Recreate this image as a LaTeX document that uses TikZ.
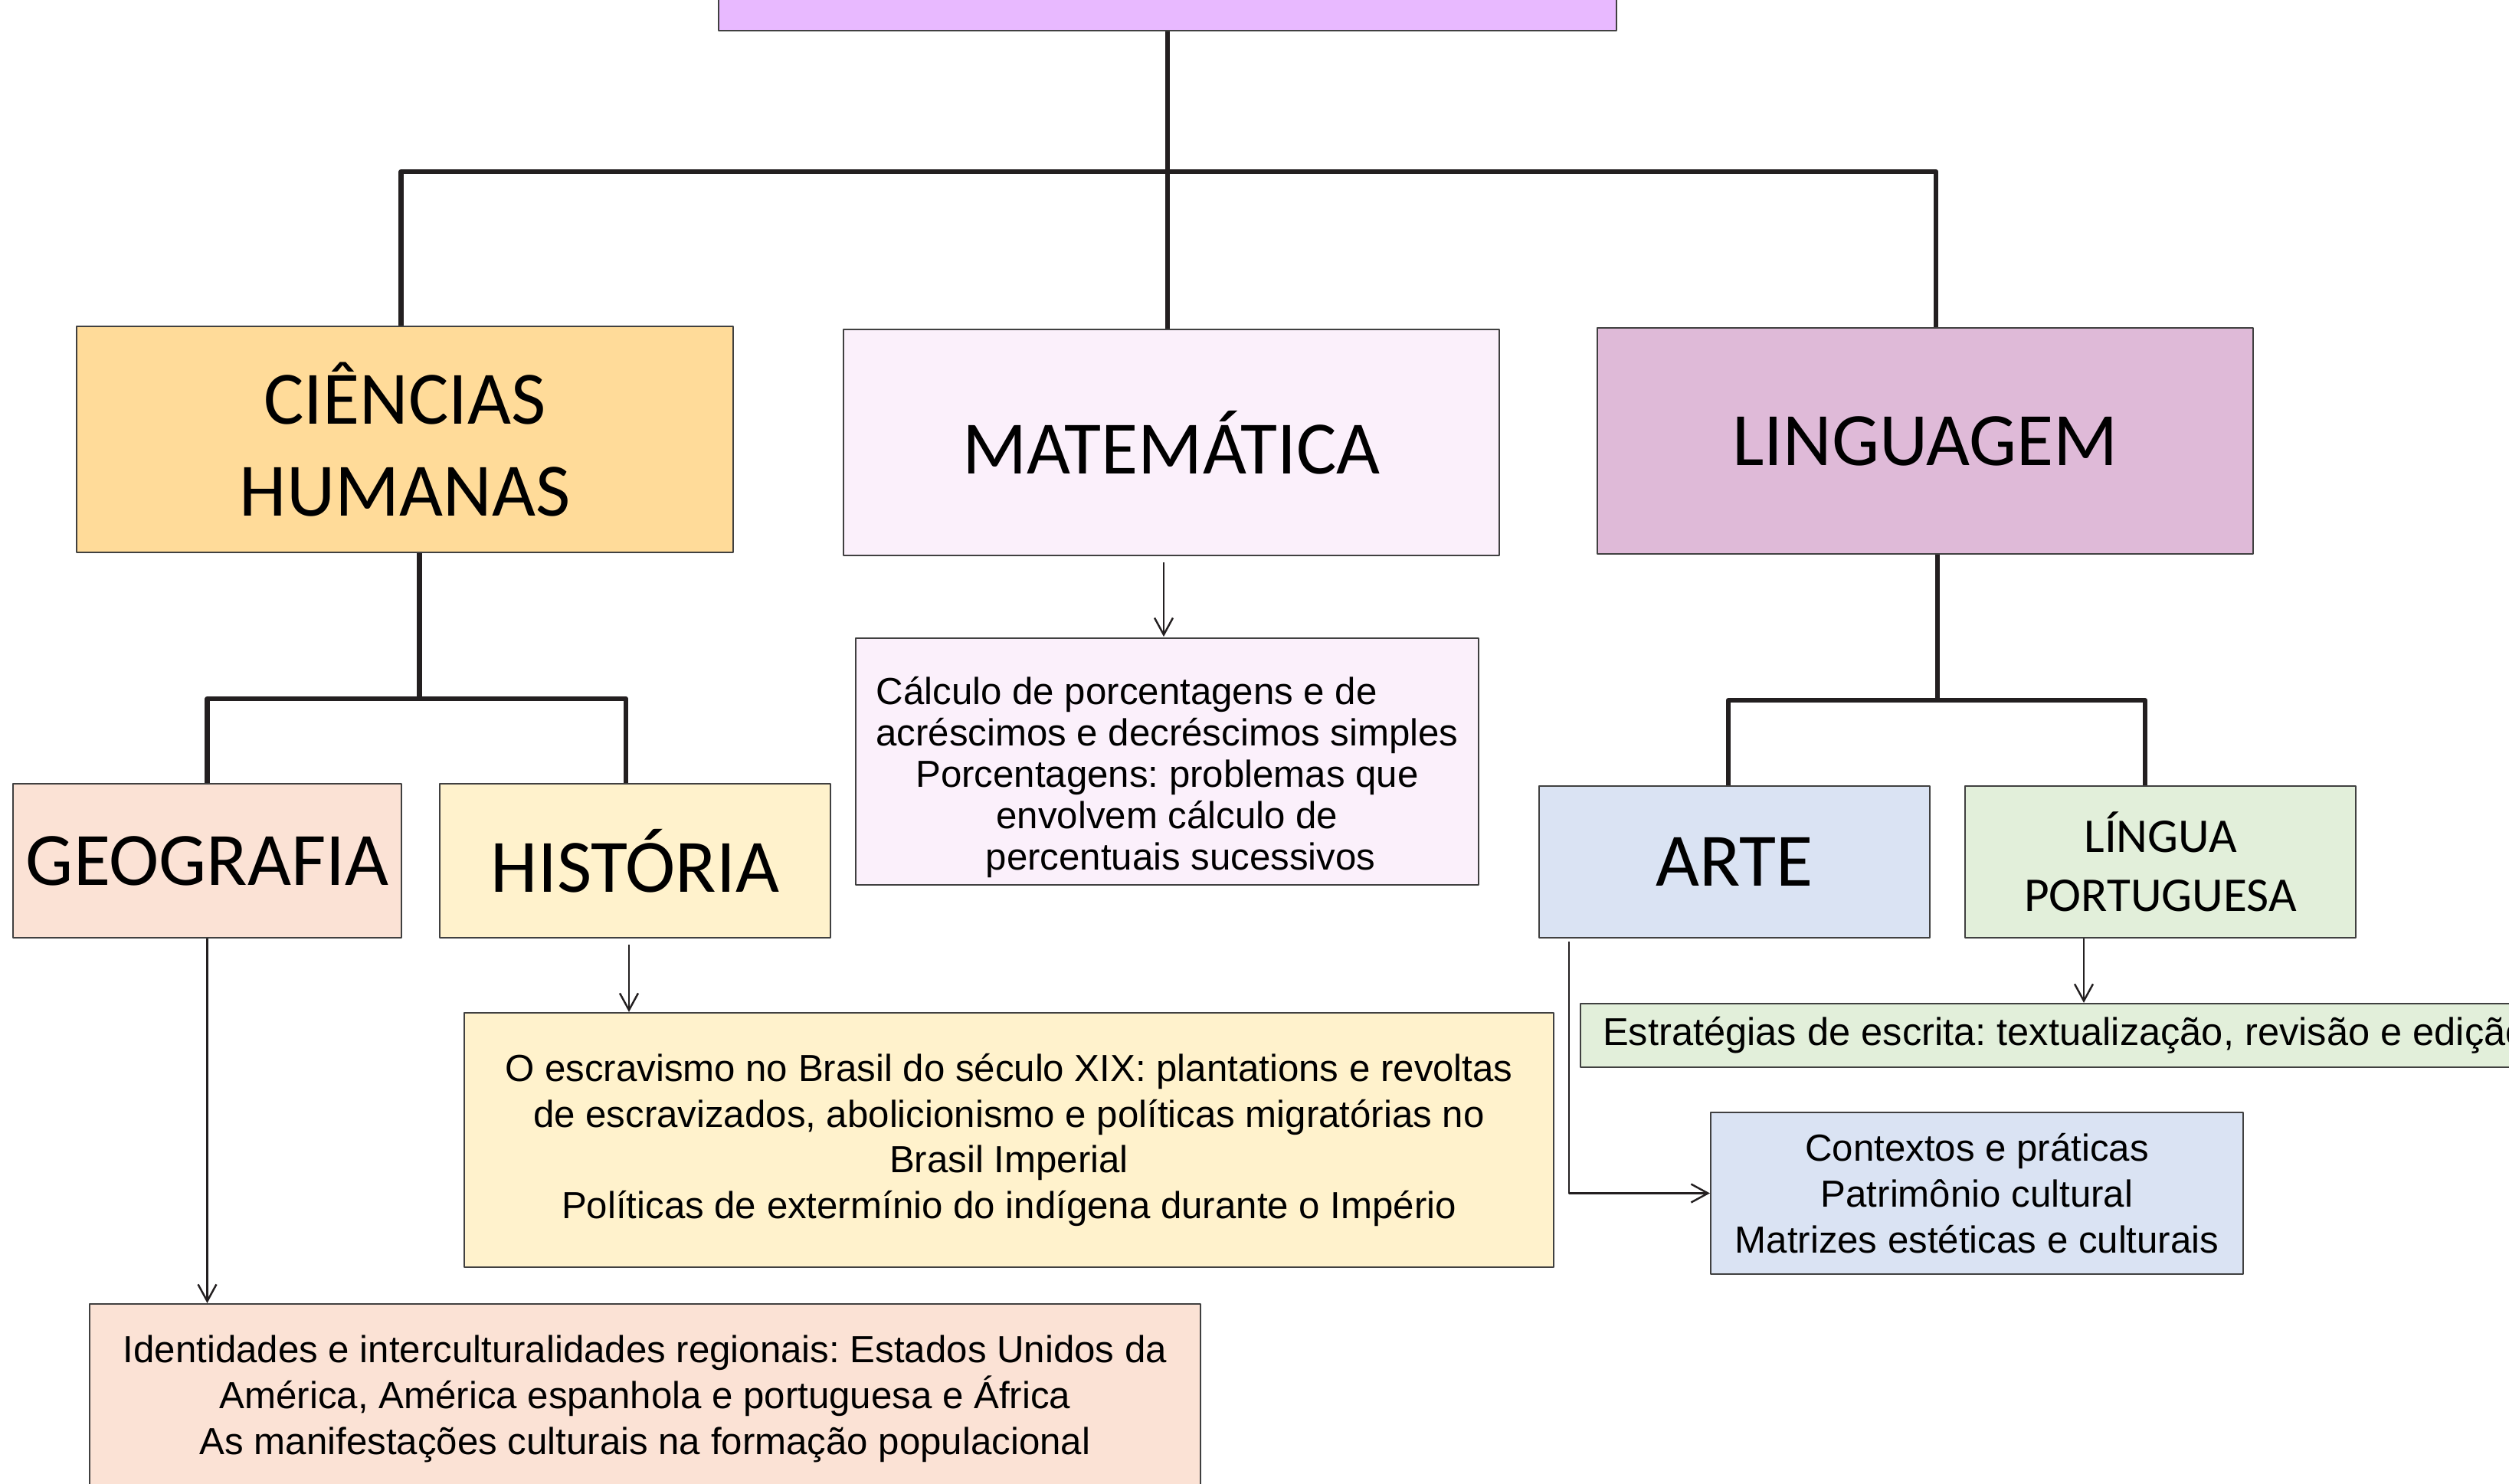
\documentclass[tikz,border=0pt]{standalone}
\usepackage{fontspec}
\setmainfont{Carlito}
\newfontfamily\arial{Liberation Sans}
\frenchspacing
\usetikzlibrary{arrows.meta}
% cores das caixas
\definecolor{corTopo}{HTML}{E8B9FF}
\definecolor{corCH}{HTML}{FFDB99}
\definecolor{corMat}{HTML}{FBF0FB}
\definecolor{corLing}{HTML}{DFBAD8}
\definecolor{corGeo}{HTML}{FBE2D5}
\definecolor{corHist}{HTML}{FFF2CC}
\definecolor{corArte}{HTML}{DAE3F3}
\definecolor{corLP}{HTML}{E2EFDA}
\definecolor{corBorda}{HTML}{404040}
\definecolor{corLinha}{HTML}{231F20}
\tikzset{
  area/.style={draw=corBorda, line width=0.6pt, align=center, inner sep=2pt,
    font=\fontsize{28}{34}\selectfont},
  conteudo/.style={draw=corBorda, line width=0.6pt, align=center, inner sep=2pt,
    font=\arial\fontsize{14}{17}\selectfont},
  tronco/.style={draw=corLinha, line width=1.8pt},
  seta/.style={draw=corLinha, line width=0.7pt, -{Straight Barb[length=2.2mm,width=2.4mm]}}
}
\begin{document}
\begin{tikzpicture}[line join=round]
\useasboundingbox (0,0) rectangle (32.75,-19.37);
% Caixa do topo
\node[area, fill=corTopo, minimum width=11.72cm, minimum height=2cm] (topo) at (15.24,0.6) {};
% Áreas
\node[area, fill=corCH, minimum width=8.57cm, minimum height=2.95cm] (ch) at (5.285,-5.735) {CIÊNCIAS\\HUMANAS};
\node[area, fill=corMat, minimum width=8.56cm, minimum height=2.95cm] (mat) at (15.29,-5.775) {MATEMÁTICA};
\node[area, fill=corLing, minimum width=8.56cm, minimum height=2.95cm] (ling) at (25.13,-5.755) {LINGUAGEM};
% Componentes
\node[area, fill=corGeo, minimum width=5.07cm, minimum height=2.01cm] (geo) at (2.705,-11.235) {GEOGRAFIA};
\node[area, fill=corHist, minimum width=5.1cm, minimum height=2.01cm] (hist) at (8.29,-11.235) {HISTÓRIA};
\node[area, fill=corArte, minimum width=5.1cm, minimum height=1.98cm] (arte) at (22.64,-11.25) {ARTE};
\node[area, fill=corLP, minimum width=5.1cm, minimum height=1.98cm, font=\fontsize{18}{22}\selectfont] (lp) at (28.2,-11.25) {LÍNGUA\\PORTUGUESA};
% Conteúdos
\node[conteudo, fill=corMat, minimum width=8.13cm, minimum height=3.22cm, font=\arial\fontsize{14}{15.4}\selectfont] (matc) at (15.235,-9.94)
  {\rule{0pt}{22pt}Cálculo de porcentagens e de\kern30pt\\acréscimos e decréscimos simples\\Porcentagens: problemas que\\envolvem cálculo de\\\kern10pt percentuais sucessivos};
\node[conteudo, fill=corHist, minimum width=14.22cm, minimum height=3.32cm] (histc) at (13.17,-14.88)
  {O escravismo no Brasil do século XIX: plantations e revoltas\\de escravizados, abolicionismo e políticas migratórias no\\Brasil Imperial\\Políticas de extermínio do indígena durante o Império};
\node[conteudo, fill=corGeo, minimum width=14.5cm, minimum height=2.48cm] (geoc) at (8.42,-18.26)
  {Identidades e interculturalidades regionais: Estados Unidos da\\América, América espanhola e portuguesa e África\\As manifestações culturais na formação populacional};
\node[conteudo, fill=corLP, anchor=west, align=left, minimum height=0.83cm, inner xsep=0.29cm, font=\arial\fontsize{14.4}{17}\selectfont] (estr) at (20.62,-13.515)
  {Estratégias de escrita: textualização, revisão e edição};
\node[conteudo, fill=corArte, minimum width=6.95cm, minimum height=2.11cm] (artec) at (25.805,-15.575)
  {Contextos e práticas\\Patrimônio cultural\\Matrizes estéticas e culturais};
% Ligações do topo
\draw[tronco] (topo.south) -- ++(0,-1.83) coordinate (jt);
\draw[tronco] ([xshift=-0.05cm]ch.north) |- (jt) -| ([xshift=0.14cm]ling.north);
\draw[tronco] (jt) -- (jt |- mat.north);
% Ciências Humanas
\draw[tronco] ([xshift=0.19cm]ch.south) -- ++(0,-1.9) coordinate (jch);
\draw[tronco] (geo.north) |- (jch) -| ([xshift=-0.12cm]hist.north);
% Linguagem
\draw[tronco] ([xshift=0.16cm]ling.south) -- ++(0,-1.9) coordinate (jl);
\draw[tronco] ([xshift=-0.08cm]arte.north) |- (jl) -| ([xshift=-0.2cm]lp.north);
% Setas para os conteúdos
\draw[seta] (mat.south) ++(-0.1,-0.08) -- ++(0,-0.97);
\coordinate (hx) at ([xshift=-0.08cm]hist.south);
\draw[seta] (hx) ++(0,-0.08) -- (hx |- histc.north);
\draw[seta] (geo.south) -- (geo.south |- geoc.north);
\coordinate (lpx) at ([xshift=-1cm]lp.south);
\draw[seta] (lpx) -- (lpx |- estr.north);
\draw[seta] ([xshift=0.4cm,yshift=-0.04cm]arte.south west) |- (artec.west);
\end{tikzpicture}
\end{document}
